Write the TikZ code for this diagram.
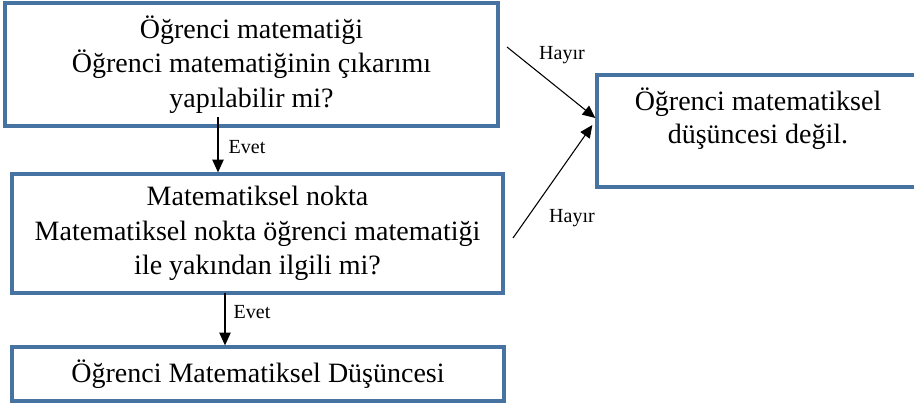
\documentclass[tikz,border=0pt]{standalone}
\usepackage{fontspec}
\setmainfont{Liberation Serif}
\usetikzlibrary{arrows.meta,calc}
\definecolor{frameblue}{RGB}{70,115,162}
\begin{document}
\begin{tikzpicture}[x=0.75pt,y=-0.75pt,
  box/.style 2 args={draw=frameblue, line width=2.5pt, rectangle, inner sep=0pt,
    minimum width=#1*0.75pt, minimum height=#2*0.75pt, align=center,
    font=\fontsize{21}{26}\selectfont},
  flow/.style={draw=black, line width=0.8pt, -{Triangle[length=9.5pt,width=8.5pt]}},
  tag/.style={font=\fontsize{15}{18}\selectfont, inner sep=0pt}
]
\useasboundingbox (0,0) rectangle (914,405);

% decision boxes on the left
\node[box={493}{123}] (q1) at (251.5,64.5)
  {Öğrenci matematiği\\Öğrenci matematiğinin çıkarımı\\yapılabilir mi?};
\node[box={491}{119}] (q2) at (257.5,233.5)
  {Matematiksel nokta\\Matematiksel nokta öğrenci matematiği\\ile yakından ilgili mi?};
\node[box={492}{54}] (q3) at (258,374)
  {Öğrenci Matematiksel Düşüncesi};

% outcome box on the right
\node[box={319}{112}] (no) at (756.5,131) {};
\node[align=center, inner sep=0pt, font=\fontsize{21}{25}\selectfont] (notxt) at (758,119)
  {Öğrenci matematiksel\\düşüncesi değil.};

% "Evet" connectors
\coordinate (e1s) at (218,117);
\draw[flow] (e1s) -- (e1s |- q2.north);
\node[tag] (evet1) at (247,147) {Evet};

\coordinate (e2s) at (225,293);
\draw[flow] (e2s) -- (e2s |- q3.north);
\node[tag] (evet2) at (252,312) {Evet};

% "Hayır" connectors
\coordinate (h1s) at (507,47);
\coordinate (h2s) at (513,238);
\draw[flow] (h1s) -- ($(no.west)+(0,-13)$);
\draw[flow] (h2s) -- ($(no.west)+(-3,-6)$);
\node[tag] (hayir1) at (562,55) {Hayır};
\node[tag] (hayir2) at (572,218) {Hayır};
\end{tikzpicture}
\end{document}
